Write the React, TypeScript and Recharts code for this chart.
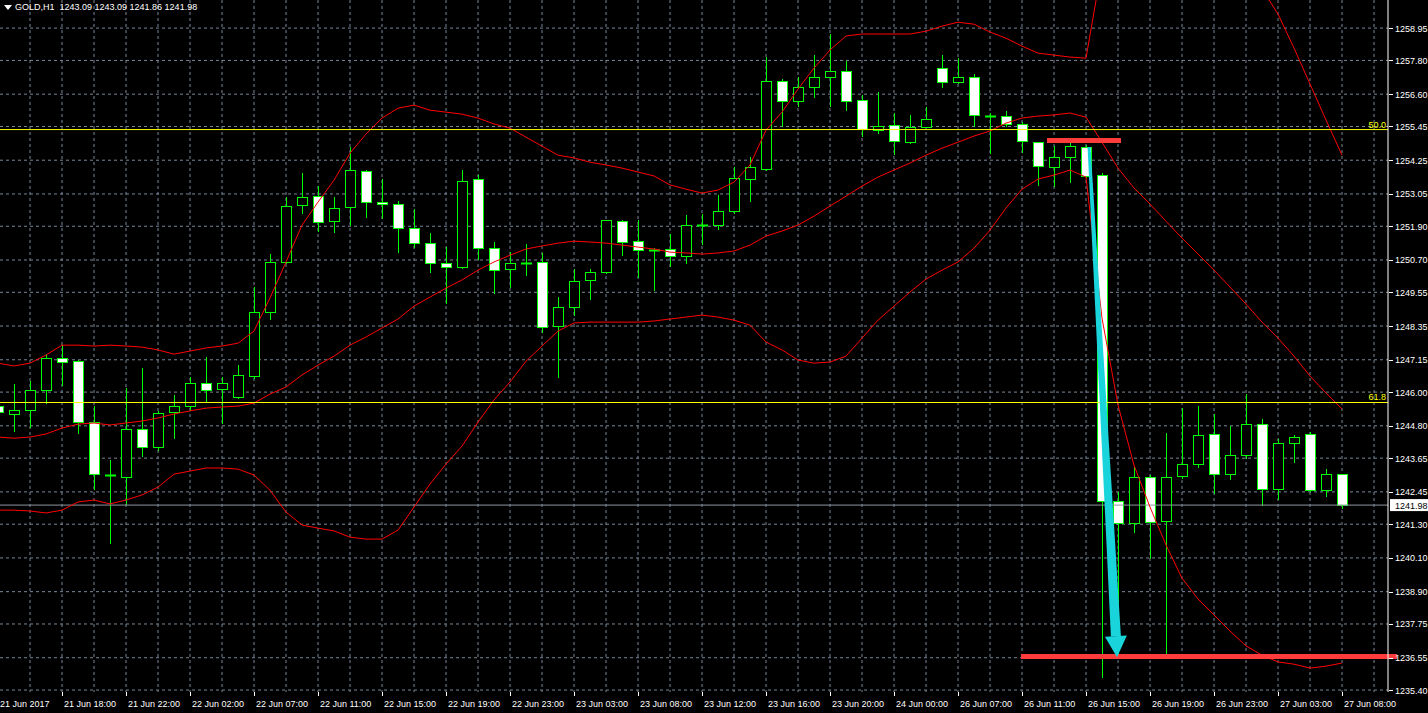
import React from "react";
import {
  ComposedChart,
  Bar,
  Line,
  XAxis,
  YAxis,
  CartesianGrid,
  ReferenceLine,
} from "recharts";

// GOLD H1 bars, oldest first (last one is 27 Jun 08:00)
const opens = [
  1245.5, 1245.22, 1245.36, 1246.07, 1247.21, 1247.1, 1244.93, 1243.05, 1242.98, 1244.68,
  1244.04, 1245.29, 1245.5, 1246.32, 1246.11, 1245.82, 1246.57, 1248.85, 1250.63, 1252.65,
  1252.97, 1252.08, 1252.58, 1253.86, 1252.76, 1252.69, 1251.84, 1251.3, 1250.59, 1250.45,
  1253.58, 1251.12, 1250.38, 1250.59, 1250.63, 1248.35, 1249.02, 1249.99, 1250.27, 1252.08,
  1251.37, 1251.05, 1251.09, 1250.84, 1251.94, 1251.94, 1252.44, 1253.58, 1253.93, 1257.06,
  1256.35, 1256.85, 1257.21, 1257.42, 1256.39, 1255.32, 1255.5, 1254.89, 1255.43, 1257.53,
  1257.03, 1257.21, 1255.82, 1255.82, 1255.54, 1254.89, 1254.01, 1254.36, 1254.72, 1253.72,
  1242.12, 1241.34, 1242.98, 1241.41, 1243.01, 1243.44, 1244.51, 1243.08, 1243.76, 1244.86,
  1242.55, 1244.19, 1244.51, 1242.51, 1243.09,
];
const highs = [
  1245.79, 1246.29, 1246.39, 1247.35, 1247.67, 1247.14, 1245.5, 1243.58, 1246.14, 1246.85,
  1245.33, 1245.89, 1246.53, 1247.25, 1246.53, 1246.96, 1249.74, 1250.91, 1252.94, 1253.79,
  1253.33, 1252.94, 1254.72, 1253.9, 1253.58, 1252.8, 1252.51, 1251.66, 1251.16, 1253.9,
  1253.72, 1251.34, 1250.98, 1251.27, 1250.95, 1249.38, 1250.38, 1250.38, 1252.12, 1252.12,
  1252.12, 1251.12, 1251.62, 1252.3, 1252.33, 1253.01, 1254.01, 1254.36, 1257.92, 1257.14,
  1257.21, 1257.99, 1258.74, 1257.78, 1256.57, 1256.67, 1255.93, 1255.86, 1256.14, 1257.99,
  1257.88, 1257.31, 1255.93, 1256.0, 1255.61, 1254.89, 1254.75, 1254.86, 1254.79, 1253.79,
  1242.44, 1243.37, 1243.05, 1244.54, 1245.43, 1245.5, 1245.22, 1244.79, 1245.93, 1245.04,
  1244.33, 1244.47, 1244.58, 1243.26, 1243.09,
];
const lows = [
  1244.83, 1244.61, 1244.76, 1245.61, 1246.25, 1244.54, 1242.55, 1240.63, 1242.02, 1243.72,
  1243.94, 1244.36, 1245.36, 1245.65, 1244.9, 1245.79, 1246.5, 1248.6, 1250.59, 1252.37,
  1251.73, 1251.69, 1251.94, 1252.23, 1252.19, 1250.98, 1251.16, 1250.27, 1249.17, 1250.41,
  1250.73, 1249.52, 1249.74, 1250.16, 1248.14, 1246.53, 1248.74, 1249.31, 1250.23, 1250.87,
  1250.09, 1249.63, 1250.48, 1250.59, 1251.27, 1251.8, 1252.37, 1252.8, 1253.9, 1255.46,
  1256.18, 1256.5, 1256.18, 1256.03, 1255.11, 1255.21, 1254.47, 1254.86, 1255.43, 1256.85,
  1256.99, 1255.46, 1254.5, 1255.46, 1254.54, 1253.37, 1253.33, 1253.47, 1253.65, 1235.86,
  1236.61, 1241.02, 1240.09, 1236.61, 1242.94, 1243.33, 1242.41, 1242.91, 1243.65, 1241.98,
  1242.19, 1243.51, 1242.48, 1242.3, 1241.86,
];
const closes = [
  1245.29, 1245.36, 1246.07, 1247.21, 1247.07, 1244.93, 1243.08, 1243.05, 1244.68, 1244.04,
  1245.25, 1245.5, 1246.32, 1246.07, 1246.32, 1246.61, 1248.85, 1250.63, 1252.62, 1252.94,
  1252.05, 1252.55, 1253.9, 1252.76, 1252.69, 1251.84, 1251.3, 1250.59, 1250.45, 1253.51,
  1251.12, 1250.34, 1250.59, 1250.59, 1248.31, 1249.02, 1249.95, 1250.27, 1252.12, 1251.34,
  1251.05, 1251.05, 1250.84, 1251.94, 1251.94, 1252.44, 1253.61, 1254.01, 1257.06, 1256.35,
  1256.85, 1257.21, 1257.42, 1256.35, 1255.36, 1255.46, 1254.93, 1255.43, 1255.71, 1257.03,
  1257.21, 1255.86, 1255.82, 1255.54, 1254.93, 1254.04, 1254.36, 1254.75, 1253.69, 1242.12,
  1241.34, 1242.98, 1241.38, 1242.98, 1243.44, 1244.47, 1243.08, 1243.76, 1244.86, 1242.55,
  1244.19, 1244.4, 1242.51, 1243.08, 1241.98,
];

// Bollinger bands
const upperBand = [
  1247.03, 1246.93, 1247.03, 1247.32, 1247.67, 1247.67, 1247.64, 1247.67, 1247.64, 1247.6,
  1247.5, 1247.35, 1247.46, 1247.57, 1247.64, 1247.74, 1248.17, 1249.35, 1250.63, 1251.94,
  1252.76, 1253.54, 1254.5, 1255.18, 1255.75, 1256.1, 1256.21, 1256.03, 1255.96, 1255.89,
  1255.75, 1255.54, 1255.39, 1255.07, 1254.75, 1254.43, 1254.33, 1254.18, 1254.08, 1253.97,
  1253.83, 1253.69, 1253.37, 1253.22, 1253.08, 1253.19, 1253.47, 1254.08, 1255.32, 1255.96,
  1256.78, 1257.53, 1258.17, 1258.67, 1258.74, 1258.74, 1258.74, 1258.74, 1258.84, 1259.02,
  1259.16, 1259.09, 1258.81, 1258.59, 1258.31, 1258.06, 1257.99, 1257.92, 1257.88, 1261.16,
  1262.4, 1263.11, 1263.47, 1263.61, 1263.58, 1263.18, 1262.61, 1261.97, 1261.3, 1260.34,
  1259.45, 1258.24, 1256.96, 1255.68, 1254.43,
];
const middleBand = [
  1244.4, 1244.36, 1244.4, 1244.51, 1244.72, 1244.86, 1244.9, 1244.83, 1244.9, 1244.97,
  1245.08, 1245.22, 1245.33, 1245.43, 1245.47, 1245.5, 1245.61, 1245.93, 1246.18, 1246.61,
  1246.96, 1247.28, 1247.67, 1247.96, 1248.28, 1248.6, 1249.06, 1249.38, 1249.7, 1249.99,
  1250.34, 1250.63, 1250.87, 1251.09, 1251.2, 1251.3, 1251.37, 1251.34, 1251.3, 1251.23,
  1251.16, 1251.09, 1250.98, 1250.95, 1250.91, 1250.95, 1251.02, 1251.23, 1251.55, 1251.73,
  1251.94, 1252.26, 1252.62, 1252.97, 1253.33, 1253.65, 1253.9, 1254.15, 1254.43, 1254.68,
  1254.89, 1255.11, 1255.29, 1255.57, 1255.75, 1255.82, 1255.86, 1255.93, 1255.78, 1254.89,
  1253.97, 1253.26, 1252.69, 1252.08, 1251.48, 1250.91, 1250.34, 1249.74, 1249.13, 1248.49,
  1247.92, 1247.28, 1246.57, 1245.97, 1245.4,
];
const lowerBand = [
  1241.8, 1241.8, 1241.77, 1241.7, 1241.8, 1242.09, 1242.16, 1242.02, 1242.16, 1242.34,
  1242.62, 1243.08, 1243.19, 1243.3, 1243.3, 1243.26, 1243.05, 1242.51, 1241.73, 1241.27,
  1241.16, 1241.06, 1240.84, 1240.77, 1240.77, 1241.09, 1241.91, 1242.73, 1243.44, 1244.08,
  1244.93, 1245.72, 1246.36, 1247.1, 1247.64, 1248.17, 1248.46, 1248.49, 1248.49, 1248.49,
  1248.49, 1248.53, 1248.6, 1248.67, 1248.74, 1248.67, 1248.56, 1248.38, 1247.78, 1247.5,
  1247.14, 1247.03, 1247.07, 1247.28, 1247.92, 1248.56, 1249.06, 1249.56, 1250.02, 1250.34,
  1250.63, 1251.12, 1251.76, 1252.55, 1253.22, 1253.58, 1253.72, 1253.9, 1253.65, 1248.63,
  1245.54, 1243.4, 1241.91, 1240.56, 1239.38, 1238.64, 1238.07, 1237.5, 1236.97, 1236.64,
  1236.4, 1236.32, 1236.18, 1236.25, 1236.36,
];

// time axis labels sit on every 4th bar
const firstLabel = "21 Jun 2017";
const xTickBars = [4, 8, 12, 16, 20, 24, 28, 32, 36, 40, 44, 48, 52, 56, 60, 64, 68, 72, 76, 80, 84];
const xTickLabels = [
  "21 Jun 18:00", "21 Jun 22:00", "22 Jun 02:00", "22 Jun 07:00", "22 Jun 11:00",
  "22 Jun 15:00", "22 Jun 19:00", "22 Jun 23:00", "23 Jun 03:00", "23 Jun 08:00",
  "23 Jun 12:00", "23 Jun 16:00", "23 Jun 20:00", "24 Jun 00:00", "26 Jun 07:00",
  "26 Jun 11:00", "26 Jun 15:00", "26 Jun 19:00", "26 Jun 23:00", "27 Jun 03:00",
  "27 Jun 08:00",
];
const yTicks = [
  1258.95, 1257.8, 1256.6, 1255.45, 1254.25, 1253.05, 1251.9, 1250.7, 1249.55, 1248.35,
  1247.15, 1246.0, 1244.8, 1243.65, 1242.45, 1241.3, 1240.1, 1238.9, 1237.75, 1236.55,
  1235.4,
];

// drawn objects (fibo levels, marker lines, arrow), in bar index / price
const fib50 = 1255.34;
const fib618 = 1245.63;
const topMark = { from: 65.56, to: 70.19, price: 1254.95 };
const bottomMark = { from: 63.94, to: 87.44, price: 1236.59 };
const arrowFrom = { bar: 68.19, price: 1254.72 };
const arrowTo = { bar: 69.94, price: 1236.57 };

const rows = opens.map((o, i) => ({
  i,
  open: o,
  high: highs[i],
  low: lows[i],
  close: closes[i],
  range: [lows[i], highs[i]],
  upper: upperBand[i],
  middle: middleBand[i],
  lower: lowerBand[i],
}));

const last = rows[rows.length - 1];
const bid = last.close;

const FONT = '"Liberation Sans", Arial, sans-serif';
const GREEN = "#00ff00";
const GRID = "#778899";

const Candle = (props: any) => {
  const { x, y, width, height, payload } = props;
  if (!payload || y == null || height == null) return null;
  const { open, close, high, low } = payload;
  const top = Math.min(y, y + height);
  const h = Math.abs(height);
  const ppu = high > low ? h / (high - low) : 0;
  const py = (p: number) => top + (high - p) * ppu;
  const c = Math.round(x + width / 2);
  const bTop = Math.round(py(Math.max(open, close)));
  const bBot = Math.round(py(Math.min(open, close)));
  const bull = close > open;
  return (
    <g>
      <line
        x1={c + 0.5}
        x2={c + 0.5}
        y1={Math.round(top)}
        y2={Math.round(top + h) + 1}
        stroke={GREEN}
        strokeWidth={1}
      />
      {bBot - bTop < 1 ? (
        <line x1={c - 5} x2={c + 6} y1={bTop + 0.5} y2={bTop + 0.5} stroke={GREEN} strokeWidth={2} />
      ) : (
        <rect
          x={c - 4.5}
          y={bTop + 0.5}
          width={10}
          height={bBot - bTop}
          fill={bull ? "#000" : "#fff"}
          stroke={GREEN}
          strokeWidth={1}
        />
      )}
    </g>
  );
};

const XTick = (props: any) => {
  const { x, y, payload } = props;
  const k = xTickBars.indexOf(payload.value);
  const label = k >= 0 ? xTickLabels[k] : firstLabel;
  return (
    <g>
      {k >= 0 && (
        <line x1={Math.round(x) + 0.5} x2={Math.round(x) + 0.5} y1={y} y2={y + 4} stroke="#fff" />
      )}
      <text x={k >= 0 ? x + 2 : x} y={y + 15} fill="#fff" fontSize={9} fontFamily={FONT}>
        {label}
      </text>
    </g>
  );
};

const YTick = (props: any) => {
  const { x, y, payload } = props;
  const yy = Math.round(y) + 0.5;
  return (
    <g>
      <line x1={x + 1} x2={x + 5} y1={yy} y2={yy} stroke="#fff" />
      <text x={x + 7} y={y + 3.5} fill="#fff" fontSize={9} fontFamily={FONT}>
        {Number(payload.value).toFixed(2)}
      </text>
    </g>
  );
};

const BidLabel = (props: any) => {
  const vb = props.viewBox || {};
  const x = vb.x + vb.width + 2;
  const y = vb.y;
  return (
    <g>
      <rect x={x} y={y - 6} width={40} height={12} fill="#fff" />
      <text x={x + 5} y={y + 3.5} fill="#000" fontSize={9} fontFamily={FONT}>
        {bid.toFixed(2)}
      </text>
    </g>
  );
};

const ArrowShape = (p: any) => {
  const { x1, y1, x2, y2 } = p;
  if ([x1, y1, x2, y2].some((v) => v == null || isNaN(v))) return null;
  const dx = x2 - x1;
  const dy = y2 - y1;
  const len = Math.hypot(dx, dy) || 1;
  const ux = dx / len;
  const uy = dy / len;
  const nx = -uy;
  const ny = ux;
  const headLen = 21;
  const headHalf = 11;
  const bx = x2 - ux * headLen;
  const by = y2 - uy * headLen;
  const w0 = 1.5;
  const w1 = 5;
  const pts = (a: number[][]) => a.map((q) => `${q[0]},${q[1]}`).join(" ");
  return (
    <g>
      <polygon
        points={pts([
          [x1 + nx * w0, y1 + ny * w0],
          [bx + nx * w1, by + ny * w1],
          [bx - nx * w1, by - ny * w1],
          [x1 - nx * w0, y1 - ny * w0],
        ])}
        fill="#19d4db"
      />
      <polygon
        points={pts([
          [bx + nx * headHalf, by + ny * headHalf],
          [x2, y2],
          [bx - nx * headHalf, by - ny * headHalf],
        ])}
        fill="#19d4db"
      />
    </g>
  );
};

const gridBars = Array.from({ length: 43 }, (_, k) => 2 + k * 2);

export default function App() {
  return (
    <div
      style={{
        position: "fixed",
        left: 0,
        top: 0,
        width: 1428,
        height: 713,
        background: "#000",
        overflow: "hidden",
        fontFamily: FONT,
      }}
    >
      <ComposedChart
        width={1428}
        height={713}
        data={rows}
        margin={{ top: 0, right: 0, left: 0, bottom: 0 }}
      >
        <CartesianGrid
          stroke={GRID}
          strokeDasharray="3 3"
          horizontalValues={yTicks}
          verticalValues={gridBars}
        />
        <XAxis
          dataKey="i"
          type="number"
          domain={[0.125, 86.875]}
          allowDataOverflow
          ticks={[0.125, ...xTickBars]}
          interval={0}
          height={21}
          tickSize={0}
          tickMargin={0}
          tickLine={false}
          axisLine={false}
          tick={<XTick />}
        />
        <YAxis
          orientation="right"
          type="number"
          domain={[1235.33, 1259.95]}
          allowDataOverflow
          ticks={yTicks}
          interval={0}
          width={40}
          tickSize={0}
          tickMargin={0}
          tickLine={false}
          axisLine={{ stroke: "#fff" }}
          tick={<YTick />}
        />
        <ReferenceLine y={bid} stroke="#8f979f" label={<BidLabel />} />
        <Bar
          dataKey="range"
          barSize={10}
          isAnimationActive={false}
          shape={(p: any) => <Candle {...p} />}
        />
        <Line dataKey="upper" stroke="#ff0000" strokeWidth={1} dot={false} activeDot={false} isAnimationActive={false} />
        <Line dataKey="middle" stroke="#ff0000" strokeWidth={1} dot={false} activeDot={false} isAnimationActive={false} />
        <Line dataKey="lower" stroke="#ff0000" strokeWidth={1} dot={false} activeDot={false} isAnimationActive={false} />
        <ReferenceLine
          y={fib50}
          stroke="#ffff00"
          label={{ value: "50.0", position: "insideBottomRight", fill: "#ffff00", fontSize: 9, offset: 2, fontFamily: FONT }}
        />
        <ReferenceLine
          y={fib618}
          stroke="#ffff00"
          label={{ value: "61.8", position: "insideBottomRight", fill: "#ffff00", fontSize: 9, offset: 2, fontFamily: FONT }}
        />
        <ReferenceLine
          segment={[
            { x: topMark.from, y: topMark.price },
            { x: topMark.to, y: topMark.price },
          ]}
          stroke="#ff3c3c"
          strokeWidth={5}
          ifOverflow="visible"
        />
        <ReferenceLine
          segment={[
            { x: bottomMark.from, y: bottomMark.price },
            { x: bottomMark.to, y: bottomMark.price },
          ]}
          stroke="#ff3c3c"
          strokeWidth={5}
          ifOverflow="visible"
        />
        <ReferenceLine
          segment={[
            { x: arrowFrom.bar, y: arrowFrom.price },
            { x: arrowTo.bar, y: arrowTo.price },
          ]}
          ifOverflow="visible"
          shape={(p: any) => <ArrowShape {...p} />}
        />
      </ComposedChart>

      {/* symbol / OHLC header */}
      <div
        style={{
          position: "absolute",
          left: 3,
          top: 1,
          color: "#fff",
          fontSize: 9,
          lineHeight: "12px",
          whiteSpace: "pre",
          display: "flex",
          alignItems: "center",
        }}
      >
        <svg width={10} height={12} style={{ marginRight: 2 }}>
          <polygon points="1,4 9,4 5,9" fill="#fff" />
        </svg>
        {`GOLD,H1  ${last.open.toFixed(2)} ${last.high.toFixed(2)} ${last.low.toFixed(2)} ${last.close.toFixed(2)}`}
      </div>
    </div>
  );
}
